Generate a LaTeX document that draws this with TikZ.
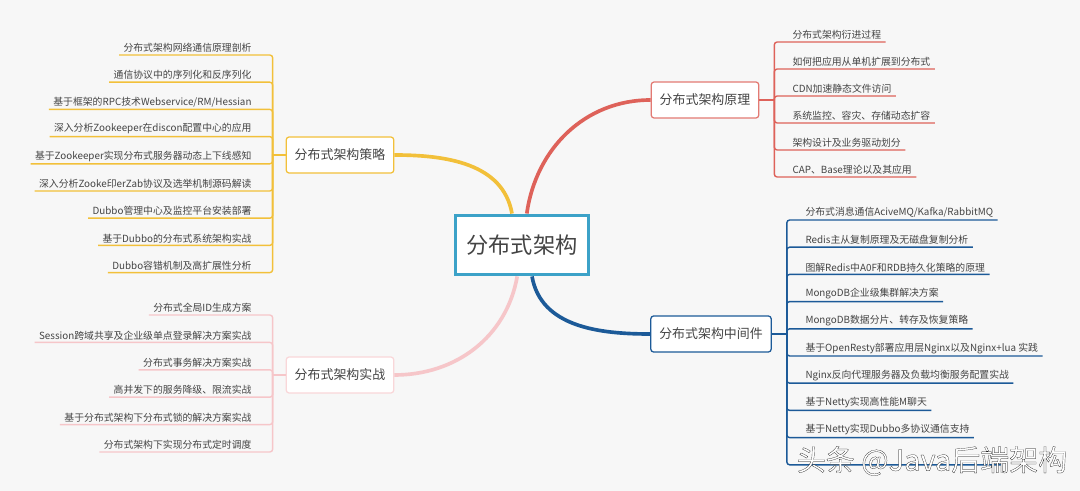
\documentclass[tikz,border=0pt]{standalone}
\usepackage{fontspec}
\setmainfont{Noto Sans CJK SC}
\usepackage{xcolor}
\usepackage{tikz}
\usetikzlibrary{positioning}
\definecolor{bgcol}{RGB}{247,247,247}
\definecolor{textgray}{RGB}{68,68,68}
\definecolor{rootblue}{RGB}{60,162,200}
\definecolor{stratcol}{RGB}{242,192,58}
\definecolor{princol}{RGB}{222,98,90}
\definecolor{practcol}{RGB}{246,198,201}
\definecolor{midcol}{RGB}{28,90,152}
% outlined text: fill in the current colour, stroke in black
\newcommand{\outlined}[1]{\special{pdf:literal direct 2 Tr 0.13 w 0 G}#1\special{pdf:literal direct 0 Tr}}

\begin{document}
\begin{tikzpicture}[x=0.025cm, y=-0.025cm,
  rootbox/.style={rectangle, draw=rootblue, line width=2.6pt, fill=white,
              minimum width=3.33cm, minimum height=1.48cm, text=textgray,
              font=\fontsize{15.8}{18}\selectfont},
  topic/.style={rectangle, rounded corners=2pt, fill=white, line width=0.9pt,
              inner xsep=6pt, minimum height=0.9cm, text=textgray,
              font=\fontsize{9.2}{11}\selectfont},
  leaf/.style={inner xsep=3pt, inner ysep=1.6pt, text=textgray,
              font=\fontsize{7}{8}\selectfont},
  branch/.style={line width=2.6pt},
  twig/.style={line width=1pt, rounded corners=2pt},
  wmark/.style={font=\fontsize{20.6}{24}\selectfont}
]
\fill[bgcol] (0,0) rectangle (1080,491);
\useasboundingbox (0,0) rectangle (1080,491);

% centre and main topics
\node[rootbox] (root) at (522,245) {分布式架构};
\node[topic, draw=stratcol] (strat) at (340,155) {分布式架构策略};
\node[topic, draw=practcol!70!white] (pract) at (340,375) {分布式架构实战};
\node[topic, draw=princol!85!white] (princ) at (705,100) {分布式架构原理};
\node[topic, draw=midcol] (mid) at (711,334) {分布式架构中间件};

\draw[branch, stratcol] (strat.east) to[out=0, in=100] ([xshift=-0.25cm]root.north);
\draw[branch, princol] ([xshift=0.12cm]root.north) to[out=82, in=180] (princ.west);
\draw[branch, practcol] ([xshift=-0.12cm]root.south) to[out=-100, in=0] (pract.east);
\draw[branch, midcol] ([xshift=0.25cm]root.south) to[out=-80, in=180] (mid.west);

\coordinate (stratknot) at ([xshift=-0.325cm]strat.west);
\coordinate (practknot) at ([xshift=-0.325cm]pract.west);
\coordinate (princknot) at ([xshift=0.375cm]princ.east);
\coordinate (midknot) at ([xshift=0.375cm]mid.east);

% strategy items
\node[leaf, anchor=south east] (s1) at (256,55) {分布式架构网络通信原理剖析};
\node[leaf, anchor=south east] (s2) at (256,82.2) {通信协议中的序列化和反序列化};
\node[leaf, anchor=south east] (s3) at (256,109.4) {基于框架的RPC技术Webservice/RM/Hessian};
\node[leaf, anchor=south east] (s4) at (256,136.6) {深入分析Zookeeper在discon配置中心的应用};
\node[leaf, anchor=south east] (s5) at (256,163.8) {基于Zookeeper实现分布式服务器动态上下线感知};
\node[leaf, anchor=south east] (s6) at (256,191) {深入分析Zooke印erZab协议及选举机制源码解读};
\node[leaf, anchor=south east] (s7) at (256,218.2) {Dubbo管理中心及监控平台安装部署};
\node[leaf, anchor=south east] (s8) at (256,245.4) {基于Dubbo的分布式系统架构实战};
\node[leaf, anchor=south east] (s9) at (256,272.6) {Dubbo容错机制及高扩展性分析};

% practice items
\node[leaf, anchor=south east] (a1) at (256,315) {分布式全局ID生成方案};
\node[leaf, anchor=south east] (a2) at (256,342.4) {Session跨域共享及企业级单点登录解决方案实战};
\node[leaf, anchor=south east] (a3) at (256,369.8) {分布式事务解决方案实战};
\node[leaf, anchor=south east] (a4) at (256,397.2) {高并发下的服务降级、限流实战};
\node[leaf, anchor=south east] (a5) at (256,424.6) {基于分布式架构下分布式锁的解决方案实战};
\node[leaf, anchor=south east] (a6) at (256,452) {分布式架构下实现分布式定时调度};

% principle items
\node[leaf, anchor=south west] (p1) at (788,42) {分布式架构衍进过程};
\node[leaf, anchor=south west] (p2) at (788,69) {如何把应用从单机扩展到分布式};
\node[leaf, anchor=south west] (p3) at (788,96) {CDN加速静态文件访问};
\node[leaf, anchor=south west] (p4) at (788,123) {系统监控、容灾、存储动态扩容};
\node[leaf, anchor=south west] (p5) at (788,150) {架构设计及业务驱动划分};
\node[leaf, anchor=south west] (p6) at (788,177) {CAP、Base理论以及其应用};

% middleware items
\node[leaf, anchor=south west] (m1) at (801,220) {分布式消息通信AciveMQ/Kafka/RabbitMQ};
\node[leaf, anchor=south west] (m2) at (801,247.2) {Redis主从复制原理及无磁盘复制分析};
\node[leaf, anchor=south west] (m3) at (801,274.4) {图解Redis中A0F和RDB持久化策略的原理};
\node[leaf, anchor=south west] (m4) at (801,301.6) {MongoDB企业级集群解决方案};
\node[leaf, anchor=south west] (m5) at (801,328.8) {MongoDB数据分片、转存及恢复策略};
\node[leaf, anchor=south west] (m6) at (801,356) {基于OpenResty部署应用层Nginx以及Nginx+lua 实践};
\node[leaf, anchor=south west] (m7) at (801,383.2) {Nginx反向代理服务器及负载均衡服务配置实战};
\node[leaf, anchor=south west] (m8) at (801,410.4) {基于Netty实现高性能M聊天};
\node[leaf, anchor=south west] (m9) at (801,437.6) {基于Netty实现Dubbo多协议通信支持};
\node[leaf, anchor=south west, minimum width=5cm] (m10) at (801,464.8) {};

% twigs
\draw[twig, stratcol] (strat.west) -- (stratknot);
\foreach \i in {1,...,9} \draw[twig, stratcol] (stratknot) |- (s\i.south west);
\draw[twig, practcol] (pract.west) -- (practknot);
\foreach \i in {1,...,6} \draw[twig, practcol] (practknot) |- (a\i.south west);
\draw[twig, princol] (princ.east) -- (princknot);
\foreach \i in {1,...,6} \draw[twig, princol] (princknot) |- (p\i.south east);
\draw[twig, midcol] (mid.east) -- (midknot);
\foreach \i in {1,...,10} \draw[twig, midcol] (midknot) |- (m\i.south east);

% watermark
\node[wmark, text=white] (wmtext) at (932,461) {\outlined{头条 @Java后端架构}};
\end{tikzpicture}
\end{document}
